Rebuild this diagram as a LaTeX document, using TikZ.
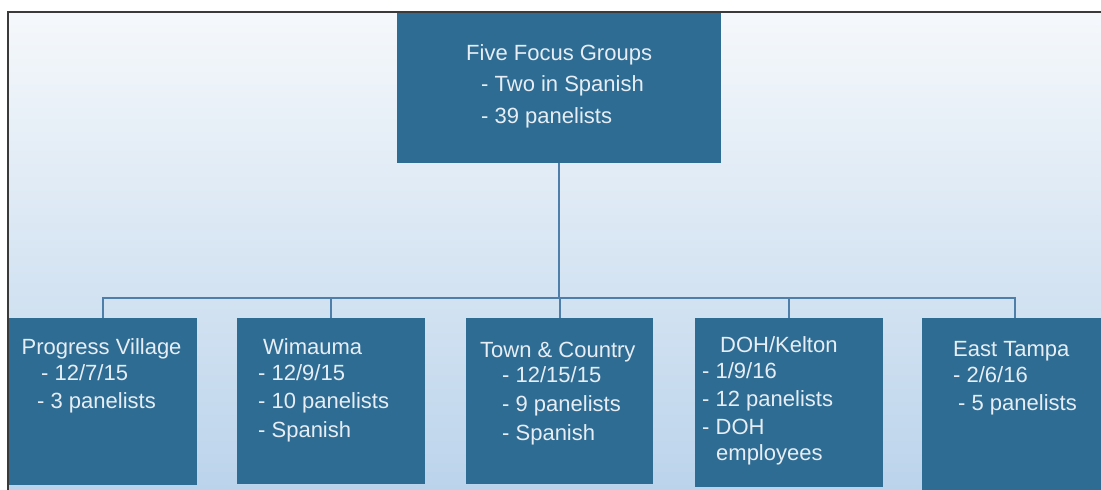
\documentclass[tikz,border=0pt]{standalone}
\usepackage{fontspec}
\setmainfont{Liberation Sans}
\definecolor{boxblue}{HTML}{2F6C93}
\definecolor{txtcol}{HTML}{E6EEF4}
\definecolor{conncol}{HTML}{4D7FAA}
\definecolor{bgtop}{HTML}{F5F8FB}
\definecolor{bgmid}{HTML}{DDE8F4}
\definecolor{bgbot}{HTML}{BAD3EB}
\definecolor{framecol}{HTML}{3A3A3A}
\begin{document}
\begin{tikzpicture}[x=1bp,y=-1bp,
  box/.style={fill=boxblue, draw=none, inner sep=0pt, outer sep=0pt},
  lbl/.style={text=txtcol, anchor=base west, inner sep=0pt, font=\fontsize{22bp}{26bp}\selectfont},
  connector/.style={draw=conncol, line width=2bp}]
\useasboundingbox (0,0) rectangle (1101,490);
\clip (0,0) rectangle (1101,490);
\fill[white] (0,0) rectangle (1101,490);
% background panel
\shade[top color=bgtop, middle color=bgmid, bottom color=bgbot] (8,12) rectangle (1120,500);
\draw[framecol, line width=1.6bp] (8,500) -- (8,12) -- (1120,12);
% boxes
\node[box, minimum width=324bp, minimum height=150bp] (top) at (559,88) {};
\node[box, minimum width=188bp, minimum height=167bp] (c1) at (103,401.5) {};
\node[box, minimum width=188bp, minimum height=166bp] (c2) at (331,401) {};
\node[box, minimum width=187bp, minimum height=166bp] (c3) at (559.5,401) {};
\node[box, minimum width=188bp, minimum height=169bp] (c4) at (788.5,402.5) {};
\node[box, minimum width=186bp, minimum height=182bp] (c5) at (1015,409) {};
% connectors
\coordinate (bus) at (559,298);
\foreach \c in {c1,c2,c3,c4,c5}{
  \draw[connector] (top.south) -- (top.south |- bus) -| (\c.north);
}
% texts
\node[lbl] (t1) at (466,61) {Five Focus Groups};
\node[lbl] (t2) at (481,92) {- Two in Spanish};
\node[lbl] (t3) at (481,124) {- 39 panelists};

\node[lbl] (p1) at (21.5,355) {Progress Village};
\node[lbl] (p2) at (41,381) {- 12/7/15};
\node[lbl] (p3) at (37,408) {- 3 panelists};

\node[lbl] (w1) at (263,355) {Wimauma};
\node[lbl] (w2) at (258,381) {- 12/9/15};
\node[lbl] (w3) at (258,408) {- 10 panelists};
\node[lbl] (w4) at (258,437) {- Spanish};

\node[lbl] (n1) at (480,358) {Town \& Country};
\node[lbl] (n2) at (502,383) {- 12/15/15};
\node[lbl] (n3) at (502,411) {- 9 panelists};
\node[lbl] (n4) at (502,440) {- Spanish};

\node[lbl] (d1) at (720,353) {DOH/Kelton};
\node[lbl] (d2) at (702,379) {- 1/9/16};
\node[lbl] (d3) at (702,406) {- 12 panelists};
\node[lbl] (d4) at (702,434) {- DOH};
\node[lbl] (d5) at (716,460) {employees};

\node[lbl] (e1) at (953,357) {East Tampa};
\node[lbl] (e2) at (953,383) {- 2/6/16};
\node[lbl] (e3) at (958,410) {- 5 panelists};
\end{tikzpicture}
\end{document}
